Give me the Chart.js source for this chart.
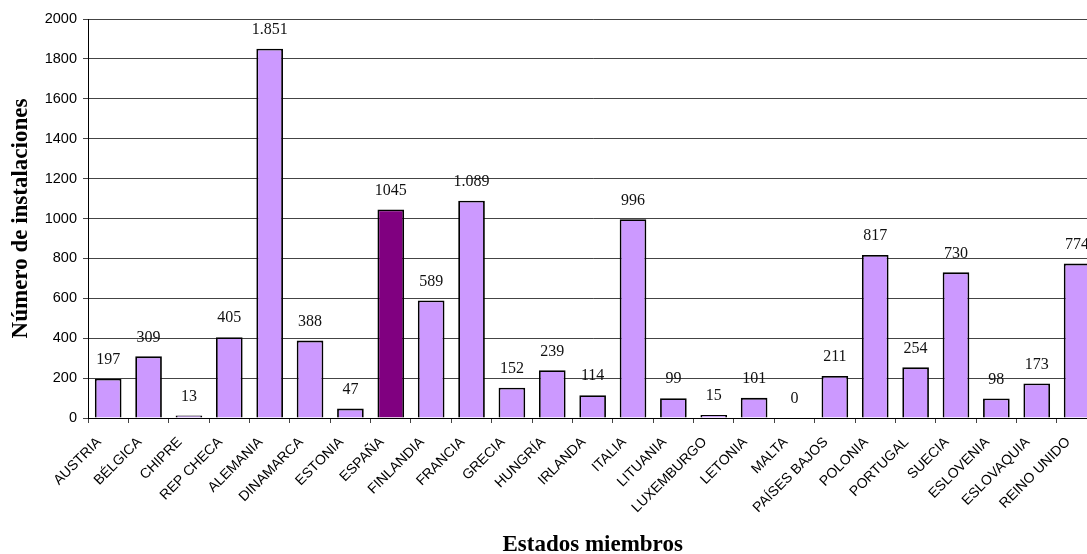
<!DOCTYPE html>
<html>
<head>
<meta charset="utf-8">
<script src="https://cdn.jsdelivr.net/npm/chart.js@4/dist/chart.umd.min.js"></script>
<style>
html,body{margin:0;padding:0;overflow:hidden;background:#fff;width:1087px;height:554px;}
canvas{display:block;}
</style>
</head>
<body>
<canvas id="c" width="1100" height="554"></canvas>
<script>
const categories = ["AUSTRIA","BÉLGICA","CHIPRE","REP CHECA","ALEMANIA","DINAMARCA","ESTONIA","ESPAÑA","FINLANDIA","FRANCIA","GRECIA","HUNGRÍA","IRLANDA","ITALIA","LITUANIA","LUXEMBURGO","LETONIA","MALTA","PAÍSES BAJOS","POLONIA","PORTUGAL","SUECIA","ESLOVENIA","ESLOVAQUIA","REINO UNIDO"];
const values = [197,309,13,405,1851,388,47,1045,589,1089,152,239,114,996,99,15,101,0,211,817,254,730,98,173,774];
const valueLabels = ["197","309","13","405","1.851","388","47","1045","589","1.089","152","239","114","996","99","15","101","0","211","817","254","730","98","173","774"];
const yTicks = [0,200,400,600,800,1000,1200,1400,1600,1800,2000];
const highlighted = "ESPAÑA";
const yTitle = "Número de instalaciones";
const xTitle = "Estados miembros";

const barColors = categories.map(c => c === highlighted ? "#800080" : "#CC99FF");

const labelPlugin = {
  id: "valueLabels",
  afterDatasetsDraw(chart) {
    const ctx = chart.ctx;
    const meta = chart.getDatasetMeta(0);
    ctx.save();
    ctx.font = "16px 'Liberation Serif', 'Times New Roman', serif";
    ctx.fillStyle = "#111";
    ctx.textAlign = "center";
    ctx.textBaseline = "middle";
    meta.data.forEach((bar, i) => {
      ctx.fillText(valueLabels[i], bar.x, bar.y - 19);
    });
    ctx.restore();
  }
};

new Chart(document.getElementById("c"), {
  type: "bar",
  data: {
    labels: categories,
    datasets: [{
      data: values,
      backgroundColor: barColors,
      borderColor: "#000",
      borderWidth: 1.8,
      barPercentage: 0.66,
      categoryPercentage: 1.0
    }]
  },
  options: {
    responsive: false,
    animation: false,
    devicePixelRatio: 1,
    layout: { padding: { top: 19, right: 1, left: 0, bottom: 0 } },
    plugins: { legend: { display: false }, tooltip: { enabled: false } },
    scales: {
      x: {
        offset: true,
        grid: { display: true, drawOnChartArea: false, drawTicks: true, tickLength: 5, color: "#444", offset: true },
        border: { display: true, color: "#000", width: 1 },
        ticks: {
          autoSkip: false, maxRotation: 45, minRotation: 45,
          color: "#000",
          font: { family: "'Liberation Sans', Arial, sans-serif", size: 14 },
          padding: 11,
          labelOffset: -9
        },
        title: {
          display: true, text: xTitle, color: "#000",
          font: { family: "'Liberation Serif', 'Times New Roman', serif", size: 23, weight: "bold", lineHeight: 0.8 },
          padding: 0
        },
        afterFit(scale) { scale.height = 136; }
      },
      y: {
        min: 0, max: 2000,
        afterBuildTicks(scale) { scale.ticks = yTicks.map(v => ({ value: v })); },
        ticks: {
          color: "#000",
          font: { family: "'Liberation Sans', Arial, sans-serif", size: 14.5 },
          padding: 6,
          callback: (v) => String(v)
        },
        grid: { color: "#444", lineWidth: 1, tickLength: 5, drawTicks: true },
        border: { display: true, color: "#000", width: 1 },
        title: {
          display: true, text: yTitle, color: "#000",
          font: { family: "'Liberation Serif', 'Times New Roman', serif", size: 23, weight: "bold", lineHeight: 1 },
          padding: { top: 10, bottom: 0 }
        },
        afterFit(scale) { scale.width = 88; }
      }
    }
  },
  plugins: [labelPlugin]
});
</script>
</body>
</html>
